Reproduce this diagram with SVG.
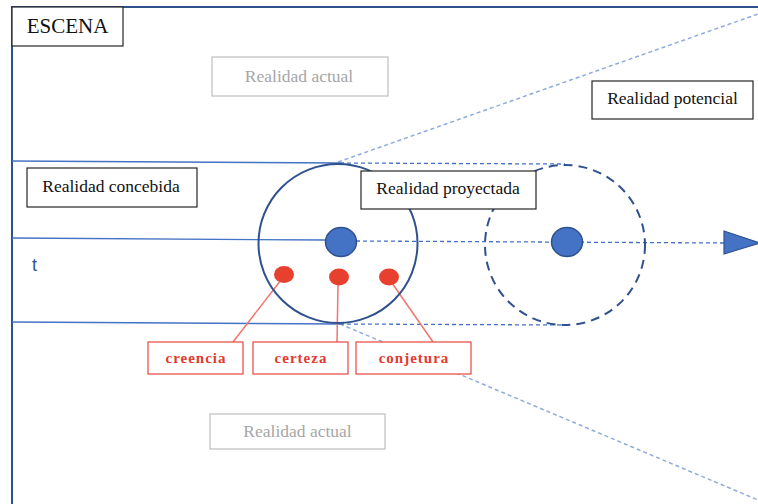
<svg xmlns="http://www.w3.org/2000/svg" width="758" height="504" viewBox="0 0 758 504">
  <style>
    .frame { fill: none; stroke: #2f528f; stroke-width: 2; }
    .box { fill: #ffffff; stroke: #262626; stroke-width: 1.2; }
    .box-grey { fill: #ffffff; stroke: #bfbfbf; stroke-width: 1.2; }
    .box-red { fill: #ffffff; stroke: #e8473c; stroke-width: 1.2; }
    .lbl { font-family: "Liberation Serif", "Times New Roman", serif; font-size: 17.5px; fill: #111111; text-anchor: middle; }
    .lbl-grey { font-family: "Liberation Serif", "Times New Roman", serif; font-size: 17.5px; fill: #a6a6a6; text-anchor: middle; }
    .lbl-red { font-family: "Liberation Serif", "Times New Roman", serif; font-size: 15px; font-weight: bold; fill: #e23a2f; text-anchor: middle; letter-spacing: 1px; }
    .axis { stroke: #4472c4; stroke-width: 1.3; fill: none; }
    .axis-dash { stroke: #4472c4; stroke-width: 1.3; fill: none; stroke-dasharray: 4 3; }
    .cone { stroke: #8faadc; stroke-width: 1.5; fill: none; stroke-dasharray: 4 3; }
    .lead { stroke: #f2756c; stroke-width: 1.5; fill: none; }
    .dot-blue { fill: #4472c4; stroke: #2f528f; stroke-width: 1.5; }
    .dot-red { fill: #e8402f; }
  </style>

  <rect width="758" height="504" fill="#ffffff"/>

  <!-- scene frame: left and top edges -->
  <path class="frame" d="M12 504 V7 H758"/>

  <g id="connectors">
    <!-- projection cone -->
    <line class="cone" x1="338" y1="162" x2="758" y2="14"/>
    <line class="cone" x1="340" y1="324" x2="758" y2="500"/>
    <!-- time band: solid past, dashed future -->
    <line class="axis" x1="12" y1="161" x2="340" y2="163"/>
    <line class="axis-dash" x1="340" y1="163" x2="565" y2="164"/>
    <line class="axis" x1="12" y1="238" x2="326" y2="240"/>
    <line class="axis-dash" x1="356" y1="241" x2="724" y2="243"/>
    <line class="axis" x1="12" y1="322" x2="340" y2="324"/>
    <line class="axis-dash" x1="340" y1="324" x2="565" y2="325"/>
    <polygon points="724,231 760,243 724,254" fill="#4472c4" stroke="#2f528f" stroke-width="1.2"/>
    <!-- leaders from the red points to their labels -->
    <line class="lead" x1="281" y1="280" x2="233" y2="342"/>
    <line class="lead" x1="338" y1="285" x2="337" y2="342"/>
    <line class="lead" x1="392" y1="283" x2="433" y2="342"/>
  </g>

  <g id="present">
    <circle cx="338" cy="243.5" r="79.5" fill="none" stroke="#2f528f" stroke-width="2"/>
    <ellipse class="dot-blue" cx="341" cy="242" rx="15.5" ry="14.5"/>
  </g>

  <g id="future">
    <circle cx="565" cy="245" r="80" fill="none" stroke="#2f528f" stroke-width="2" stroke-dasharray="9 6"/>
    <ellipse class="dot-blue" cx="567" cy="242" rx="15.5" ry="14.5"/>
  </g>

  <g id="points">
    <ellipse class="dot-red" cx="284" cy="274.5" rx="10" ry="8.5"/>
    <ellipse class="dot-red" cx="339" cy="277" rx="10" ry="8.5"/>
    <ellipse class="dot-red" cx="389" cy="277" rx="10" ry="8.5"/>
  </g>

  <g id="escena">
    <rect class="box" x="12" y="7" width="111" height="39"/>
    <text class="lbl" x="67.5" y="33" style="font-size:21px">ESCENA</text>
  </g>

  <g id="realidad-actual-arriba">
    <rect class="box-grey" x="212" y="57" width="176" height="39"/>
    <text class="lbl-grey" x="299" y="81.5">Realidad actual</text>
  </g>

  <g id="realidad-potencial">
    <rect class="box" x="592" y="81" width="161" height="38"/>
    <text class="lbl" x="672.5" y="104">Realidad potencial</text>
  </g>

  <g id="realidad-concebida">
    <rect class="box" x="27" y="168" width="170" height="39"/>
    <text class="lbl" x="111" y="192">Realidad concebida</text>
  </g>

  <g id="realidad-proyectada">
    <rect class="box" x="361" y="171" width="175" height="38"/>
    <text class="lbl" x="448" y="194">Realidad proyectada</text>
  </g>

  <g id="tiempo">
    <text x="32" y="271" font-family="Liberation Sans, Arial, sans-serif" font-size="18px" fill="#2f5597">t</text>
  </g>

  <g id="creencia">
    <rect class="box-red" x="148" y="342" width="95" height="32"/>
    <text class="lbl-red" x="196" y="363">creencia</text>
  </g>

  <g id="certeza">
    <rect class="box-red" x="253" y="342" width="95" height="32"/>
    <text class="lbl-red" x="301" y="363">certeza</text>
  </g>

  <g id="conjetura">
    <rect class="box-red" x="356" y="342" width="115" height="32"/>
    <text class="lbl-red" x="414" y="363">conjetura</text>
  </g>

  <g id="realidad-actual-abajo">
    <rect class="box-grey" x="210" y="414" width="175" height="35"/>
    <text class="lbl-grey" x="297.5" y="437">Realidad actual</text>
  </g>
</svg>
